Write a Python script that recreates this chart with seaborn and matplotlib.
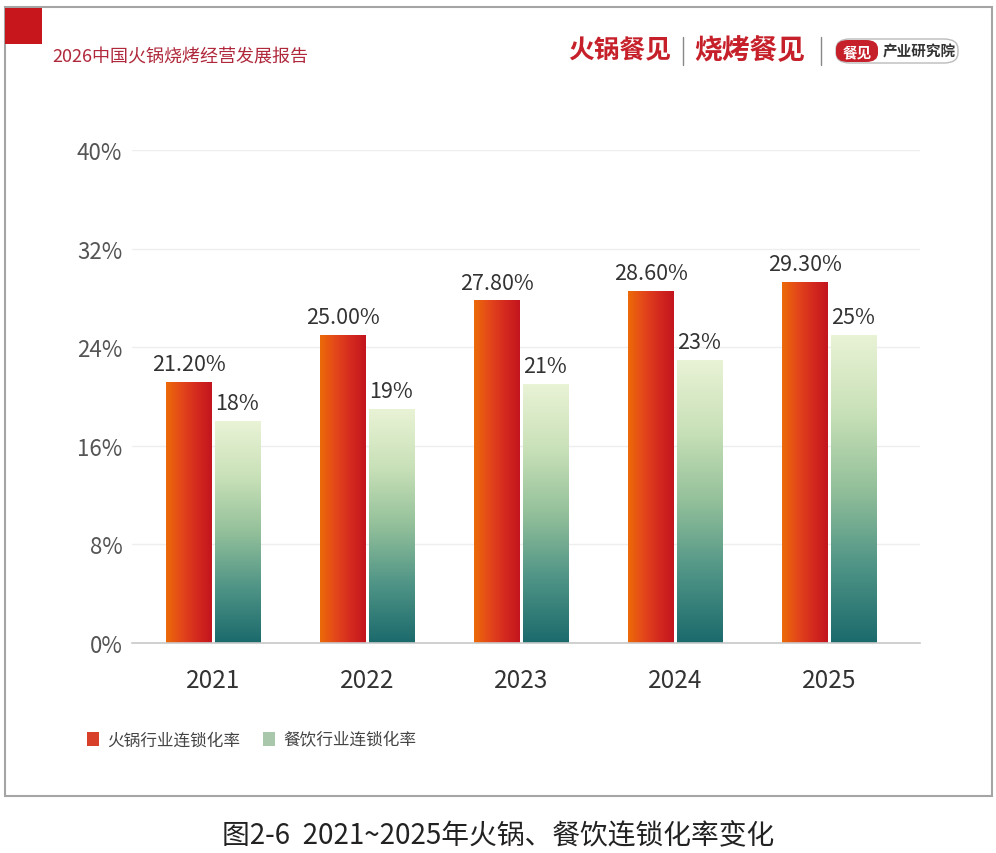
import numpy as np
import pandas as pd
import matplotlib
matplotlib.use("Agg")
import matplotlib.pyplot as plt
import seaborn as sns
from matplotlib.patches import Rectangle, FancyBboxPatch
from matplotlib.colors import LinearSegmentedColormap
from matplotlib.lines import Line2D

# ---------------- data ----------------
years = ["2021", "2022", "2023", "2024", "2025"]
hotpot_rate = [21.2, 25.0, 27.8, 28.6, 29.3]
catering_rate = [18, 19, 21, 23, 25]
hotpot_labels = ["21.20%", "25.00%", "27.80%", "28.60%", "29.30%"]
catering_labels = ["18%", "19%", "21%", "23%", "25%"]
series_names = ["火锅行业连锁化率", "餐饮行业连锁化率"]
y_ticks = [0, 8, 16, 24, 32, 40]
y_tick_labels = ["0%", "8%", "16%", "24%", "32%", "40%"]
header_text = "2026中国火锅烧烤经营发展报告"
brand_1 = "火锅餐见"
brand_2 = "烧烤餐见"
brand_3a = "餐见"
brand_3b = "产业研究院"
caption = "图2-6  2021~2025年火锅、餐饮连锁化率变化"

# ---------------- style ----------------
sns.set_theme(style="white")
plt.rcParams['font.family'] = ['Noto Sans CJK SC', 'DejaVu Sans']

W, H = 996, 854
fig = plt.figure(figsize=(W / 100, H / 100), dpi=100)
fig.patch.set_facecolor("white")


def fx(x):
    return x / W


def fy(y):
    return 1 - y / H


ax = fig.add_axes([fx(132), fy(644), fx(920) - fx(132), fy(151) - fy(644)])

df = pd.DataFrame({
    "year": years * 2,
    "rate": hotpot_rate + catering_rate,
    "series": [series_names[0]] * len(years) + [series_names[1]] * len(years),
})

sns.barplot(data=df, x="year", y="rate", hue="series",
            palette=["#d8402a", "#8fb59a"], width=0.63, gap=0.07,
            errorbar=None, legend=False, ax=ax)

red_cmap = LinearSegmentedColormap.from_list(
    "red", ["#ec6a08", "#e4481a", "#d42a1f", "#c3151e"])
green_cmap = LinearSegmentedColormap.from_list(
    "green", ["#1b6a6c", "#4f9486", "#93c09a", "#c9e1b8", "#e9f3d6"])

label_sets = [hotpot_labels, catering_labels]
for ci, container in enumerate(ax.containers[:2]):
    for bi, patch in enumerate(container.patches):
        x0 = patch.get_x()
        w = patch.get_width()
        h = patch.get_height()
        if ci == 0:
            img = np.linspace(0, 1, 256).reshape(1, -1)
            cmap = red_cmap
        else:
            img = np.linspace(0, 1, 256).reshape(-1, 1)
            cmap = green_cmap
        im = ax.imshow(img, cmap=cmap, extent=[x0, x0 + w, 0, h],
                       origin="lower", aspect="auto", zorder=2)
        im.set_clip_path(patch)
        patch.set_facecolor("none")
        patch.set_edgecolor("none")
        ax.text(x0 + w / 2, h + 0.55, label_sets[ci][bi], ha="center",
                va="bottom", fontsize=15.5, color="#333333", weight="light",
                zorder=4)

ax.set_xlim(-0.526, 4.59)
ax.set_ylim(0, 40)
ax.set_yticks(y_ticks)
ax.set_yticklabels(y_tick_labels)
ax.tick_params(axis="y", length=0, pad=7, labelsize=16, labelcolor="#555555")
ax.tick_params(axis="x", length=0, pad=17, labelsize=17.5, labelcolor="#333333")
for lab in ax.get_yticklabels():
    lab.set_fontweight("light")
ax.set_xlabel("")
ax.set_ylabel("")
ax.yaxis.grid(True, color="#eeeeee", lw=1)
ax.set_axisbelow(True)
for s in ["top", "right", "left"]:
    ax.spines[s].set_visible(False)
ax.spines["bottom"].set_color("#c8c8c8")
ax.spines["bottom"].set_linewidth(1.2)

# ---------------- legend ----------------
handles = [Rectangle((0, 0), 1, 1, fc="#d8402a", ec="none"),
           Rectangle((0, 0), 1, 1, fc="#a9c8ab", ec="none")]
leg = fig.legend(handles, series_names, loc="center left",
                 bbox_to_anchor=(fx(72), fy(741)), frameon=False, ncol=2,
                 fontsize=12, handlelength=0.7, handleheight=0.9,
                 handletextpad=0.5, columnspacing=1.4)
for t in leg.get_texts():
    t.set_color("#444444")

# ---------------- frame & header ----------------
fig.add_artist(Rectangle((fx(5), fy(797)), fx(992) - fx(5), fy(8) - fy(797),
                         transform=fig.transFigure, fill=False,
                         ec="#a5a5a5", lw=1.5))
fig.add_artist(Rectangle((fx(5), fy(45)), fx(42) - fx(5), fy(9) - fy(45),
                         transform=fig.transFigure, fc="#c8161d", ec="none"))
fig.text(fx(52), fy(58), header_text, ha="left", va="center", fontsize=13,
         color="#b0283c")

fig.text(fx(568), fy(51), brand_1, ha="left", va="center", fontsize=18.5,
         color="#c6202a", weight="bold")
fig.add_artist(Line2D([fx(683), fx(683)], [fy(38), fy(66)],
                      transform=fig.transFigure, color="#888888", lw=1))
fig.text(fx(694), fy(51), brand_2, ha="left", va="center", fontsize=20,
         color="#c6202a", weight="heavy")
fig.add_artist(Line2D([fx(821), fx(821)], [fy(38), fy(66)],
                      transform=fig.transFigure, color="#888888", lw=1))
fig.add_artist(FancyBboxPatch((fx(836), fy(64)), fx(958) - fx(836),
                              fy(40) - fy(64),
                              boxstyle="round,pad=0,rounding_size=0.014",
                              transform=fig.transFigure, fc="white",
                              ec="#bbbbbb", lw=1, mutation_aspect=854 / 996))
fig.add_artist(FancyBboxPatch((fx(836), fy(63)), fx(878) - fx(836),
                              fy(41) - fy(63),
                              boxstyle="round,pad=0,rounding_size=0.012",
                              transform=fig.transFigure, fc="#c6202a",
                              ec="none", mutation_aspect=854 / 996))
fig.text(fx(857), fy(52), brand_3a, ha="center", va="center", fontsize=10.5,
         color="white", weight="bold")
fig.text(fx(883), fy(52), brand_3b, ha="left", va="center", fontsize=10.5,
         color="#333333", weight="bold")

# ---------------- caption ----------------
fig.text(0.5, fy(836), caption, ha="center", va="center", fontsize=20,
         color="#222222")

fig.savefig("out.png", dpi=100, facecolor="white")
